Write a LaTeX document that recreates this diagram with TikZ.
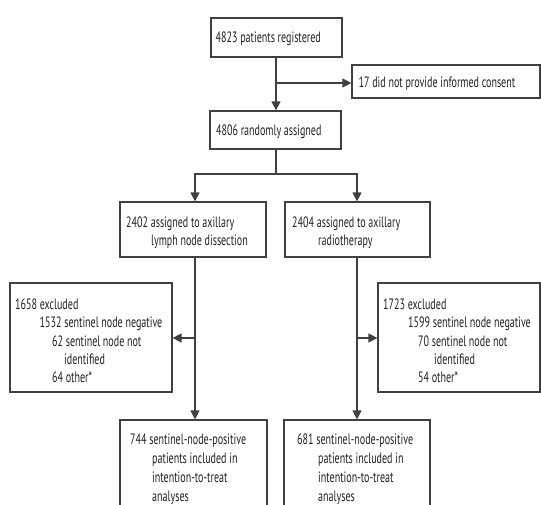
\documentclass[tikz,border=0pt]{standalone}
\usepackage{fontspec}
\setmainfont{PT Sans}[FakeStretch=0.67]
\usetikzlibrary{arrows.meta}
\definecolor{linec}{HTML}{404040}
\definecolor{textc}{HTML}{222222}
\tikzset{
  boxn/.style={draw=linec, line width=1.2pt, rectangle, inner sep=0pt},
  txt/.style={anchor=base west, inner sep=0pt, text=textc, font=\fontsize{15pt}{17pt}\selectfont},
  conn/.style={draw=linec, line width=1.2pt},
  arr/.style={conn, -{Triangle[length=9pt,width=9pt]}},
}
\begin{document}
\begin{tikzpicture}[x=1pt,y=-1pt]
\useasboundingbox (0,0) rectangle (541,504);
\clip (0,0) rectangle (541,504);
% boxes
\node[boxn, minimum width=131pt, minimum height=39pt] (reg) at (276.5,37.5) {};
\node[boxn, minimum width=188pt, minimum height=33pt] (cons) at (446,81.5) {};
\node[boxn, minimum width=131pt, minimum height=38pt] (rand) at (275.5,130) {};
\node[boxn, minimum width=146pt, minimum height=55pt] (axd) at (193,229.5) {};
\node[boxn, minimum width=145pt, minimum height=55pt] (art) at (357.5,229.5) {};
\node[boxn, minimum width=162pt, minimum height=109pt] (exl) at (91,337.5) {};
\node[boxn, minimum width=162pt, minimum height=109pt] (exr) at (459,337.5) {};
\node[boxn, minimum width=147pt, minimum height=100pt] (pl) at (193.5,470) {};
\node[boxn, minimum width=146pt, minimum height=100pt] (pr) at (357,470) {};
% texts
\node[txt] (t1) at (215.5,42.5) {4823 patients registered};
\node[txt] (t2) at (358.5,87) {17 did not provide informed consent};
\node[txt] (t3) at (216,135) {4806 randomly assigned};
\node[txt] (t4a) at (126,227) {2402 assigned to axillary};
\node[txt] (t4b) at (151,245) {lymph node dissection};
\node[txt] (t5a) at (292,227) {2404 assigned to axillary};
\node[txt] (t5b) at (318,245) {radiotherapy};
\node[txt] (t6a) at (15,309) {1658 excluded};
\node[txt] (t6b) at (39.5,327) {1532 sentinel node negative};
\node[txt] (t6c) at (52,346) {62 sentinel node not};
\node[txt] (t6d) at (64,364) {identified};
\node[txt] (t6e) at (52,382) {64 other*};
\node[txt] (t7a) at (383,309) {1723 excluded};
\node[txt] (t7b) at (408,327) {1599 sentinel node negative};
\node[txt] (t7c) at (418,346) {70 sentinel node not};
\node[txt] (t7d) at (434,364) {identified};
\node[txt] (t7e) at (418,382) {54 other*};
\node[txt] (t8a) at (130,444) {744 sentinel-node-positive};
\node[txt] (t8b) at (152,463) {patients included in};
\node[txt] (t8c) at (152,482) {intention-to-treat};
\node[txt] (t8d) at (152,501) {analyses};
\node[txt] (t9a) at (297,444) {681 sentinel-node-positive};
\node[txt] (t9b) at (318,463) {patients included in};
\node[txt] (t9c) at (318,482) {intention-to-treat};
\node[txt] (t9d) at (318,501) {analyses};
% connectors
\coordinate (b1) at (276,83);
\coordinate (b2) at (276,174);
\coordinate (bl) at (195,174);
\coordinate (br) at (357,174);
\coordinate (cl) at (195,338);
\coordinate (cr) at (357,338);
\draw[arr] (reg.south -| b1) -- (rand.north -| b1);
\draw[arr] (b1) -- (b1 -| cons.west);
\draw[conn] (rand.south -| b2) -- (b2);
\draw[arr] (b2) -- (bl) -- (bl |- axd.north);
\draw[arr] (b2) -- (br) -- (br |- art.north);
\draw[arr] (axd.south -| bl) -- (pl.north -| bl);
\draw[arr] (art.south -| br) -- (pr.north -| br);
\draw[arr] (cl) -- (cl -| exl.east);
\draw[arr] (cr) -- (cr -| exr.west);
\end{tikzpicture}
\end{document}
